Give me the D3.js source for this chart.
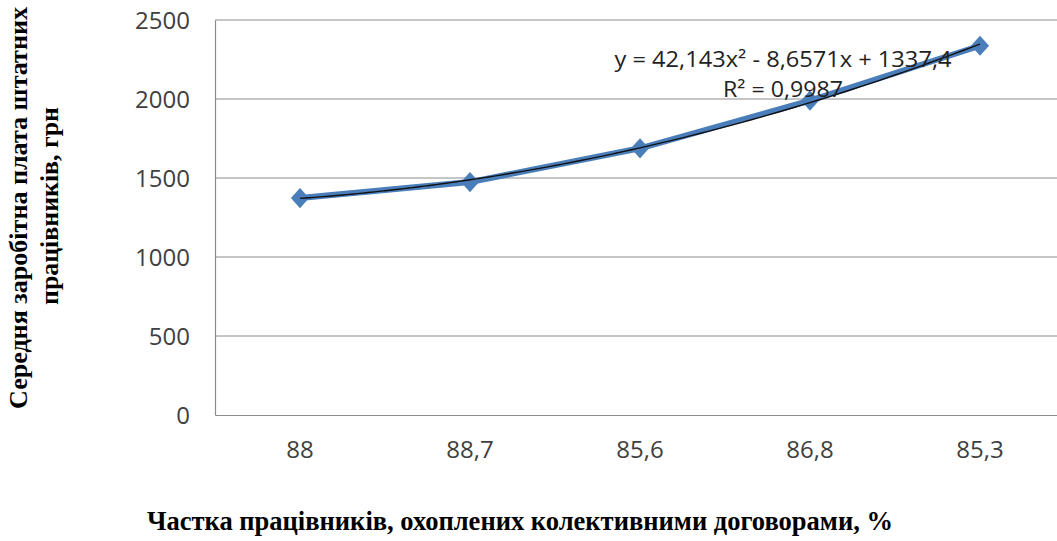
<!DOCTYPE html>
<html>
<head>
<meta charset="utf-8">
<script src="https://cdn.jsdelivr.net/npm/d3@7"></script>
<style>
  html, body { margin: 0; padding: 0; background: #fff; }
  svg { display: block; }
</style>
</head>
<body>
<svg id="chart" width="1057" height="541"></svg>
<script>
// Share of employees covered by collective agreements (%) vs. average wage (UAH)
const categories = ["88", "88,7", "85,6", "86,8", "85,3"];
const wages = [1373, 1474, 1688, 1990, 2337];
const yTicks = [0, 500, 1000, 1500, 2000, 2500];
// Polynomial trend (order 2): y = a*x^2 + b*x + c, x = category number
const trendCoef = [42.143, -8.6571, 1337.4];
const trendLabel = ["y = 42,143x² - 8,6571x + 1337,4", "R² = 0,9987"];

const svg = d3.select("#chart");
const plot = { left: 215, top: 20, right: 1065, bottom: 415 };

const x = d3.scaleBand().domain(categories).range([plot.left, plot.right]).padding(0);
const y = d3.scaleLinear().domain([0, 2500]).range([plot.bottom, plot.top]);

const tickFont = "'Open Sans', 'Liberation Sans', sans-serif";

// horizontal gridlines
svg.append("g")
  .selectAll("line")
  .data(yTicks.filter(d => d > 0))
  .join("line")
  .attr("x1", plot.left).attr("x2", 1057)
  .attr("y1", d => y(d)).attr("y2", d => y(d))
  .attr("stroke", "#8c8c8c").attr("stroke-width", 1);

// axes
const yAxis = svg.append("g")
  .attr("transform", `translate(${plot.left},0)`)
  .call(d3.axisLeft(y).tickValues(yTicks).tickFormat(d3.format("d")).tickSize(0).tickPadding(25));
const xAxis = svg.append("g")
  .attr("transform", `translate(0,${plot.bottom})`)
  .call(d3.axisBottom(x).tickSize(0).tickPadding(26));

[yAxis, xAxis].forEach(g => {
  g.select(".domain").attr("stroke", "#8c8c8c").attr("stroke-width", 1.2);
  g.selectAll(".tick text")
    .attr("fill", "#404040")
    .attr("font-size", null)
    .style("font-family", tickFont)
    .style("font-size", "24px");
});
xAxis.selectAll(".tick text").attr("dy", "0.71em").attr("y", 26);
yAxis.selectAll(".tick text").attr("dy", "0.36em");

const cx = d => x(d) + x.bandwidth() / 2;

// data series
svg.append("path")
  .datum(wages)
  .attr("fill", "none")
  .attr("stroke", "#4a7ebb")
  .attr("stroke-width", 6)
  .attr("stroke-linejoin", "round")
  .attr("d", d3.line().x((d, i) => cx(categories[i])).y(d => y(d)));

svg.append("g")
  .selectAll("path")
  .data(wages)
  .join("path")
  .attr("d", d3.symbol().type(d3.symbolDiamond2).size(260))
  .attr("transform", (d, i) => `translate(${cx(categories[i])},${y(d)}) scale(0.9,1)`)
  .attr("fill", "#4a7ebb");

// trendline from the fitted polynomial
const xNum = d3.scaleLinear().domain([1, categories.length])
  .range([cx(categories[0]), cx(categories[categories.length - 1])]);
const trendPts = d3.range(1, categories.length + 0.001, 0.05).map(t => [
  xNum(t), y(trendCoef[0] * t * t + trendCoef[1] * t + trendCoef[2])
]);
svg.append("path")
  .datum(trendPts)
  .attr("fill", "none")
  .attr("stroke", "#111")
  .attr("stroke-width", 1.4)
  .attr("d", d3.line().curve(d3.curveMonotoneX));

// trend equation
svg.append("g")
  .selectAll("text")
  .data(trendLabel)
  .join("text")
  .attr("x", 783)
  .attr("y", (d, i) => 67 + i * 30)
  .attr("text-anchor", "middle")
  .attr("fill", "#222")
  .style("font-family", tickFont)
  .style("font-size", "21px")
  .attr("textLength", (d, i) => i === 0 ? 337 : 120)
  .attr("lengthAdjust", "spacingAndGlyphs")
  .text(d => d);

// axis titles
const titleFont = "'Liberation Serif', 'DejaVu Serif', serif";
svg.append("text")
  .attr("x", 520).attr("y", 530)
  .attr("text-anchor", "middle")
  .style("font-family", titleFont)
  .style("font-size", "28px")
  .style("font-weight", "bold")
  .attr("textLength", 746)
  .attr("lengthAdjust", "spacingAndGlyphs")
  .text("Частка працівників, охоплених колективними договорами, %");

const yTitle = svg.append("g").attr("transform", "translate(0,208) rotate(-90)");
yTitle.append("text")
  .attr("x", 0).attr("y", 26.5)
  .attr("text-anchor", "middle")
  .style("font-family", titleFont)
  .style("font-size", "26px")
  .style("font-weight", "bold")
  .attr("textLength", 402)
  .attr("lengthAdjust", "spacingAndGlyphs")
  .text("Середня заробітна плата штатних");
yTitle.append("text")
  .attr("x", 2).attr("y", 57.5)
  .attr("text-anchor", "middle")
  .style("font-family", titleFont)
  .style("font-size", "26px")
  .style("font-weight", "bold")
  .attr("textLength", 198)
  .attr("lengthAdjust", "spacingAndGlyphs")
  .text("працівників, грн");
</script>
</body>
</html>
